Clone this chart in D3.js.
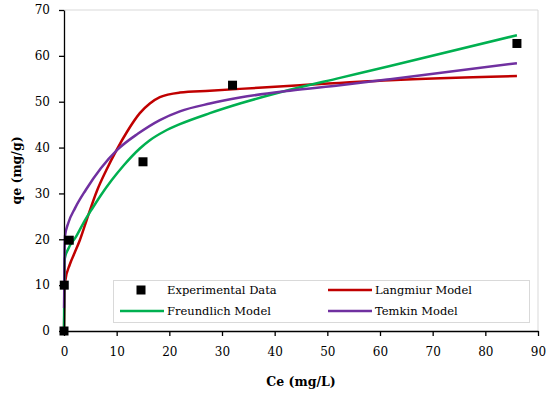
<!DOCTYPE html>
<html>
<head>
<meta charset="utf-8">
<script src="https://cdn.jsdelivr.net/npm/d3@7"></script>
<style>
  body { margin: 0; background: #fff; }
  svg { display: block; }
  text { font-family: "DejaVu Serif", "Liberation Serif", serif; fill: #000; }
</style>
</head>
<body>
<svg width="550" height="396"></svg>
<script>
// experimental points
var expCe = [0, 0.05, 1, 15, 32, 86];
var expQe = [0, 10, 19.8, 36.9, 53.6, 62.7];

// model curves
var langCe = [0, 0.1, 0.25, 1.1, 2, 3, 4.3, 6.3, 8, 10, 12, 14.4, 16.3, 18.2, 22, 27.7, 33.4, 44.8, 61.9, 86];
var langQe = [0, 7, 11, 14.5, 17, 19.8, 24.2, 30.7, 35, 39.5, 43.5, 47.5, 49.6, 51.0, 52.0, 52.4, 52.8, 53.6, 54.7, 55.6];

var freuCe = [0, 0.05, 0.15, 0.8, 2.2, 4, 5.2, 7, 9, 11.4, 14.4, 16.3, 19, 22, 27.7, 33.4, 42.9, 52.4, 61.9, 86];
var freuQe = [0, 8, 15.8, 17.9, 20.4, 24.2, 26.4, 29.6, 32.8, 36.2, 39.8, 41.6, 43.5, 45.1, 47.5, 49.6, 52.6, 55.2, 57.8, 64.5];

var temkCe = [0.02, 0.08, 0.2, 0.8, 2.1, 4.1, 7, 10.1, 14, 18.2, 22, 27.7, 33.4, 42.9, 52.4, 61.9, 86];
var temkQe = [5, 14, 20.8, 23.5, 26.8, 30.7, 35.5, 39.5, 43.0, 46.0, 47.9, 49.6, 50.9, 52.4, 53.6, 54.9, 58.4];

var xTicks = [0, 10, 20, 30, 40, 50, 60, 70, 80, 90];
var yTicks = [0, 10, 20, 30, 40, 50, 60, 70];

var svg = d3.select("svg");

var x = d3.scaleLinear().domain([0, 90]).range([64, 538]);
var y = d3.scaleLinear().domain([0, 70]).range([331, 10]);

function zip(a, b) { return a.map(function(d, i) { return [d, b[i]]; }); }

var series = [
  { name: "Langmiur Model", color: "#C00000", pts: zip(langCe, langQe) },
  { name: "Freundlich Model", color: "#00B050", pts: zip(freuCe, freuQe) },
  { name: "Temkin Model", color: "#7030A0", pts: zip(temkCe, temkQe) }
];

// plot area frame (light grey)
svg.append("path")
    .attr("d", "M" + x(0) + "," + y(70) + "H" + x(90) + "V" + y(0))
    .attr("fill", "none")
    .attr("stroke", "#d9d9d9")
    .attr("stroke-width", 1);

var line = d3.line()
    .x(function(d) { return x(d[0]); })
    .y(function(d) { return y(d[1]); })
    .curve(d3.curveMonotoneX);

svg.append("g")
    .attr("class", "lines")
  .selectAll("path")
  .data(series)
  .enter().append("path")
    .attr("d", function(d) { return line(d.pts); })
    .attr("fill", "none")
    .attr("stroke", function(d) { return d.color; })
    .attr("stroke-width", 2.5);

// axes
var xAxis = svg.append("g")
    .attr("transform", "translate(0," + y(0) + ")")
    .call(d3.axisBottom(x).tickValues(xTicks).tickSize(5).tickSizeOuter(0).tickPadding(11));
var yAxis = svg.append("g")
    .attr("transform", "translate(" + x(0) + ",0)")
    .call(d3.axisLeft(y).tickValues(yTicks).tickSize(5).tickSizeOuter(0).tickPadding(9));

[xAxis, yAxis].forEach(function(a) {
  a.select(".domain").attr("stroke", "#000").attr("stroke-width", 1.3);
  a.selectAll(".tick line").attr("stroke", "#000").attr("stroke-width", 1.3);
  a.selectAll(".tick text")
      .style("font-family", "'DejaVu Serif', serif")
      .style("font-size", "12px");
});

// legend
var legend = svg.append("g").attr("class", "legend");
legend.append("rect")
    .attr("x", 113.5).attr("y", 280.5)
    .attr("width", 416).attr("height", 42)
    .attr("fill", "#fff")
    .attr("stroke", "#d9d9d9");

legend.append("rect")
    .attr("x", 141 - 4.5).attr("y", 290 - 4.5)
    .attr("width", 9).attr("height", 9)
    .attr("fill", "#000");
legend.append("text")
    .attr("x", 167).attr("y", 290).attr("dy", "0.35em")
    .style("font-size", "11.5px")
    .text("Experimental Data");

var legendPos = [[328, 290], [120, 311], [328, 311]];
series.forEach(function(s, i) {
  var p = legendPos[i];
  legend.append("line")
      .attr("x1", p[0]).attr("x2", p[0] + 44)
      .attr("y1", p[1]).attr("y2", p[1])
      .attr("stroke", s.color)
      .attr("stroke-width", 2.5);
  legend.append("text")
      .attr("x", p[0] + 47).attr("y", p[1]).attr("dy", "0.35em")
      .style("font-size", "11.5px")
      .text(s.name);
});

// experimental points on top
svg.append("g")
    .attr("class", "points")
  .selectAll("rect")
  .data(zip(expCe, expQe))
  .enter().append("rect")
    .attr("x", function(d) { return x(d[0]) - 4.5; })
    .attr("y", function(d) { return y(d[1]) - 4.5; })
    .attr("width", 9).attr("height", 9)
    .attr("fill", "#000");

// axis titles
svg.append("text")
    .attr("x", x(45)).attr("y", 386)
    .attr("text-anchor", "middle")
    .style("font-size", "12.5px")
    .style("font-weight", "bold")
    .text("Ce (mg/L)");

svg.append("text")
    .attr("transform", "translate(17," + y(35) + ") rotate(-90)")
    .attr("text-anchor", "middle")
    .attr("dy", "0.35em")
    .style("font-size", "12.5px")
    .style("font-weight", "bold")
    .text("qe (mg/g)");
</script>
</body>
</html>
